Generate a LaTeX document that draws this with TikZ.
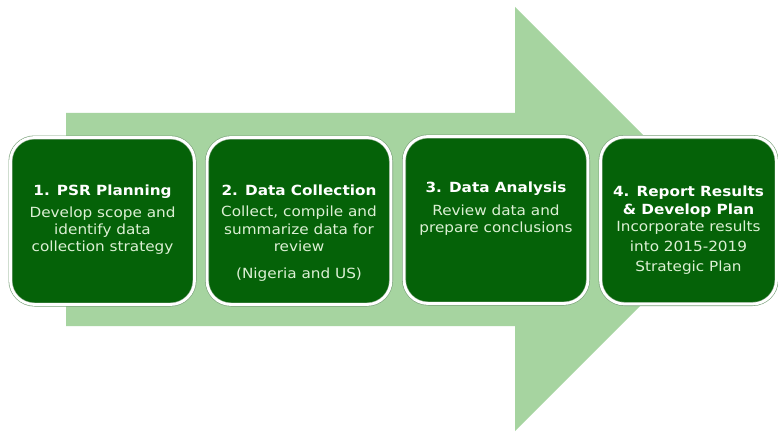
\documentclass[tikz,border=0pt]{standalone}
\usepackage{fontspec}
\setmainfont[FakeStretch=1.09]{DejaVu Sans}
\definecolor{arrowgreen}{RGB}{166,212,160}
\definecolor{boxgreen}{RGB}{5,98,8}
\definecolor{edgegreen}{RGB}{120,160,120}
\definecolor{bodytxt}{RGB}{220,240,212}
\begin{document}
\begin{tikzpicture}[x=1pt,y=-1pt,
  stagebox/.style={rounded corners=24pt, fill=boxgreen, draw=edgegreen, line width=0.6pt,
    double=white, double distance=2.8pt, minimum width=184pt, minimum height=167pt, inner sep=0pt},
  bodyline/.style={anchor=base, inner sep=0pt, text=bodytxt, font=\fontsize{14}{17}\selectfont},
  titleline/.style={anchor=base, inner sep=0pt, text=white, font=\fontsize{14}{17}\selectfont\bfseries}]
\useasboundingbox (0,0) rectangle (778,433);
\fill[white] (0,0) rectangle (778,433);
% big arrow
\fill[arrowgreen] (66,113) -- (515,113) -- (515,7) -- (727,219)
  -- (515,431) -- (515,326) -- (66,326) -- cycle;
% boxes
\node[stagebox] (b1) at (102.5,221) {};
\node[stagebox] (b2) at (299,221) {};
\node[stagebox] (b3) at (496,220) {};
\node[stagebox, minimum width=176pt] (b4) at (688.5,220.5) {};
% box 1 texts
\node[titleline] (t1a) at (102.5,195) {1. PSR Planning};
\node[bodyline] (t1b) at (102.5,217) {Develop scope and};
\node[bodyline] (t1c) at (102.5,234.3) {identify data};
\node[bodyline] (t1d) at (102.5,251.6) {collection strategy};
% box 2 texts
\node[titleline] (t2a) at (299,195) {2. Data Collection};
\node[bodyline] (t2b) at (299,216.7) {Collect, compile and};
\node[bodyline] (t2c) at (299,234) {summarize data for};
\node[bodyline] (t2d) at (299,251.5) {review};
\node[bodyline] (t2e) at (299,278) {(Nigeria and US)};
% box 3 texts
\node[titleline] (t3a) at (496,192) {3. Data Analysis};
\node[bodyline] (t3b) at (496,215) {Review data and};
\node[bodyline] (t3c) at (496,232) {prepare conclusions};
% box 4 texts
\node[titleline] (t4a) at (688.5,196.7) {4. Report Results};
\node[titleline] (t4b) at (688.5,214) {\& Develop Plan};
\node[bodyline] (t4c) at (688.5,231.7) {Incorporate results};
\node[bodyline] (t4d) at (688.5,251) {into 2015-2019};
\node[bodyline] (t4e) at (688.5,271.7) {Strategic Plan};
\end{tikzpicture}
\end{document}
